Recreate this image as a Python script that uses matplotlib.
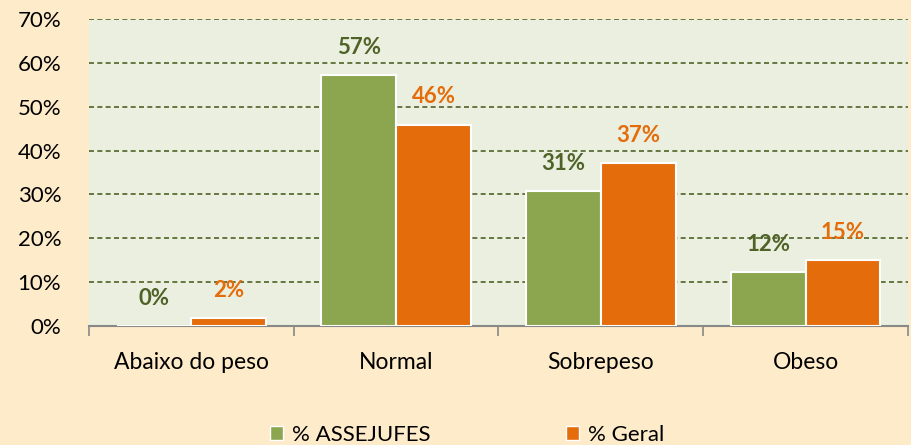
import matplotlib.pyplot as plt
import numpy as np
from matplotlib.patches import Patch

categories = ['Abaixo do peso', 'Normal', 'Sobrepeso', 'Obeso']
assejufes = [0, 57.2, 30.7, 12.2]
geral = [1.8, 45.9, 37.1, 15.0]
labels_assejufes = ['0%', '57%', '31%', '12%']
labels_geral = ['2%', '46%', '37%', '15%']
series_names = ['% ASSEJUFES', '% Geral']

green = '#8BA64F'
orange = '#E46C0A'
green_txt = '#4F6228'
fig_bg = '#FDEBC9'
ax_bg = '#EBEFDF'

plt.rcParams['font.family'] = ['Lato', 'DejaVu Sans']

fig = plt.figure(figsize=(9.12, 4.45), dpi=100, facecolor=fig_bg)
ax = fig.add_axes([0.0976, 0.2674, 0.898, 0.690])
ax.set_facecolor(ax_bg)

x = np.arange(len(categories))
w = 0.365
b1 = ax.bar(x - w / 2, assejufes, w, color=green, edgecolor='white', linewidth=1.5, zorder=3)
b2 = ax.bar(x + w / 2, geral, w, color=orange, edgecolor='white', linewidth=1.5, zorder=3)

for rect, lab in zip(b1, labels_assejufes):
    ax.annotate(lab, (rect.get_x() + rect.get_width() / 2, rect.get_height()),
                xytext=(0, 20), textcoords='offset points', ha='center', va='center',
                fontsize=16, fontweight='bold', color=green_txt, zorder=4)
for rect, lab in zip(b2, labels_geral):
    ax.annotate(lab, (rect.get_x() + rect.get_width() / 2, rect.get_height()),
                xytext=(0, 20), textcoords='offset points', ha='center', va='center',
                fontsize=16, fontweight='bold', color=orange, zorder=4)

ax.set_ylim(0, 70)
ax.set_xlim(-0.5, 3.5)
ax.set_yticks(np.arange(0, 71, 10))
ax.set_yticklabels([f'{v}%' for v in range(0, 71, 10)], fontsize=16)
ax.yaxis.grid(True, linestyle=(0, (3, 2)), color=green_txt, linewidth=1.2, zorder=1)
ax.set_axisbelow(True)
ax.tick_params(axis='y', length=0, pad=20)

ax.set_xticks(x)
ax.set_xticklabels(categories, fontsize=16.5)
ax.set_xticks(np.arange(-0.5, 4, 1), minor=True)
ax.tick_params(axis='x', which='major', length=0, pad=19)
ax.tick_params(axis='x', which='minor', length=7, color='#888888', width=1.2)

for s in ['top', 'right', 'left']:
    ax.spines[s].set_visible(False)
ax.spines['bottom'].set_color('#888888')
ax.spines['bottom'].set_linewidth(1.5)

handles = [Patch(facecolor=green, edgecolor='white'), Patch(facecolor=orange, edgecolor='white')]
fig.legend(handles, series_names, loc='center', bbox_to_anchor=(0.512, 0.022), ncol=2,
           frameon=False, fontsize=16, handlelength=0.6, handleheight=0.6,
           handletextpad=0.4, columnspacing=6.1)

fig.savefig('out.png', dpi=100, facecolor=fig_bg)
